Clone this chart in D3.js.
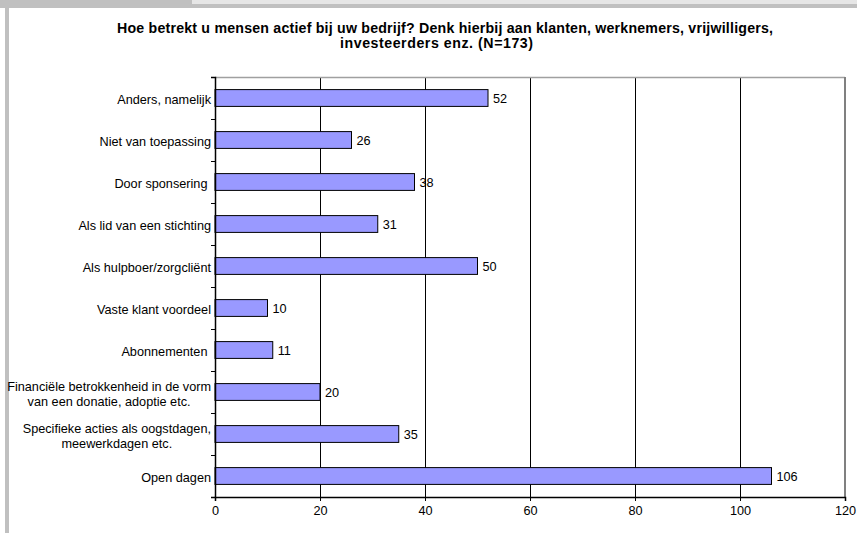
<!DOCTYPE html>
<html>
<head>
<meta charset="utf-8">
<script src="https://cdn.jsdelivr.net/npm/d3@7"></script>
<style>
  html, body { margin: 0; padding: 0; background: #fff; }
  svg { display: block; }
  text { font-family: "Liberation Sans", Arial, sans-serif; }
</style>
</head>
<body>
<svg id="chart" width="857" height="533"></svg>
<script>
// ---- data ----
const titleLines = [
  "Hoe betrekt u mensen actief bij uw bedrijf? Denk hierbij aan klanten, werknemers, vrijwilligers,",
  "investeerders enz. (N=173)"
];
const categories = [
  ["Anders, namelijk"],
  ["Niet van toepassing"],
  ["Door sponsering "],
  ["Als lid van een stichting"],
  ["Als hulpboer/zorgcliënt"],
  ["Vaste klant voordeel"],
  ["Abonnementen "],
  ["Financiële betrokkenheid in de vorm", "van een donatie, adoptie etc."],
  ["Specifieke acties als oogstdagen,", "meewerkdagen etc."],
  ["Open dagen"]
];
const values = [52, 26, 38, 31, 50, 10, 11, 20, 35, 106];
const xTicks = [0, 20, 40, 60, 80, 100, 120];

// ---- layout ----
const svg = d3.select("#chart");
const W = 857, H = 533;
const plot = { left: 215, right: 845, top: 77, bottom: 497 };
const fontSize = 12.7;

// frame decorations
svg.append("rect").attr("x", 0).attr("y", 0).attr("width", W).attr("height", 8).attr("fill", "#c0c0c0");
svg.append("rect").attr("x", 192).attr("y", 0).attr("width", W - 192).attr("height", 4).attr("fill", "#e6e6e6");
svg.append("rect").attr("x", 5).attr("y", 0).attr("width", 4).attr("height", H).attr("fill", "#c0c0c0");

// title
const title = svg.append("text")
  .attr("text-anchor", "start")
  .attr("font-weight", "bold")
  .attr("font-size", 14.2)
  .attr("fill", "#000");
title.append("tspan").attr("x", 117).attr("y", 33)
  .attr("textLength", 656).attr("lengthAdjust", "spacing").text(titleLines[0]);
title.append("tspan").attr("x", 340).attr("y", 48)
  .attr("textLength", 193).attr("lengthAdjust", "spacing").text(titleLines[1]);

// scales
const x = d3.scaleLinear().domain([0, 120]).range([plot.left, plot.right]);
const keys = categories.map((c, i) => i);
const y = d3.scaleBand().domain(keys).range([plot.top, plot.bottom])
  .paddingInner(0.6).paddingOuter(0.3).align(0.5);
const yEdges = d3.scaleLinear().domain([0, categories.length]).range([plot.top, plot.bottom]);

// gridlines
svg.append("g").selectAll("line")
  .data(xTicks.filter(t => t > 0 && t < 120))
  .join("line")
  .attr("x1", d => x(d)).attr("x2", d => x(d))
  .attr("y1", plot.top).attr("y2", plot.bottom)
  .attr("stroke", "#000").attr("stroke-width", 1)
  .attr("shape-rendering", "crispEdges");

// plot border top/right
svg.append("line").attr("x1", plot.left).attr("x2", plot.right)
  .attr("y1", plot.top + 0.5).attr("y2", plot.top + 0.5)
  .attr("stroke", "#a0a0a0").attr("stroke-width", 1.5);
svg.append("line").attr("x1", plot.right).attr("x2", plot.right)
  .attr("y1", plot.top).attr("y2", plot.bottom)
  .attr("stroke", "#808080").attr("stroke-width", 2);

// bars
svg.append("g").selectAll("rect")
  .data(values)
  .join("rect")
  .attr("x", x(0))
  .attr("y", (d, i) => y(i))
  .attr("width", d => x(d) - x(0))
  .attr("height", y.bandwidth())
  .attr("fill", "#9999ff")
  .attr("stroke", "#000")
  .attr("stroke-width", 1);

// value labels
svg.append("g").selectAll("text")
  .data(values)
  .join("text")
  .attr("x", d => x(d) + 5)
  .attr("y", (d, i) => y(i) + y.bandwidth() / 2)
  .attr("dy", "0.4em")
  .attr("font-size", fontSize)
  .attr("fill", "#000")
  .text(d => d);

// x axis
const xAxis = svg.append("g")
  .attr("transform", `translate(0,${plot.bottom})`)
  .call(d3.axisBottom(x).tickValues(xTicks).tickSize(4).tickPadding(5).tickFormat(d3.format("d")));
xAxis.select(".domain").attr("stroke", "#000").attr("stroke-width", 1.5);
xAxis.selectAll(".tick line").attr("stroke", "#000");
xAxis.selectAll(".tick text").attr("font-size", fontSize).attr("font-family", "Liberation Sans, Arial, sans-serif").attr("fill", "#000");

// y axis (ticks at category boundaries)
const yAxis = svg.append("g")
  .attr("transform", `translate(${plot.left},0)`)
  .call(d3.axisLeft(yEdges).tickValues(d3.range(categories.length + 1)).tickSize(4).tickFormat(""));
yAxis.select(".domain").attr("stroke", "#000").attr("stroke-width", 1.5);
yAxis.selectAll(".tick line").attr("stroke", "#000");

// category labels
const labelRight = plot.left - 4;
const lineH = 15;
const catG = svg.append("g");
categories.forEach((lines, i) => {
  const cy = y(i) + y.bandwidth() / 2;
  const t = catG.append("text")
    .attr("font-size", fontSize)
    .attr("fill", "#000")
    .style("white-space", "pre");
  if (lines.length === 1) {
    t.attr("text-anchor", "end").attr("x", labelRight).attr("y", cy).attr("dy", "0.45em").text(lines[0]);
  } else {
    const spans = lines.map((l, j) => t.append("tspan")
      .attr("y", cy + 2 + (j - (lines.length - 1) / 2) * lineH)
      .attr("dy", "0.35em")
      .text(l));
    const widths = spans.map(s => s.node().getComputedTextLength());
    const maxW = d3.max(widths);
    t.attr("text-anchor", "middle");
    spans.forEach(s => s.attr("x", labelRight - maxW / 2));
  }
});
</script>
</body>
</html>
